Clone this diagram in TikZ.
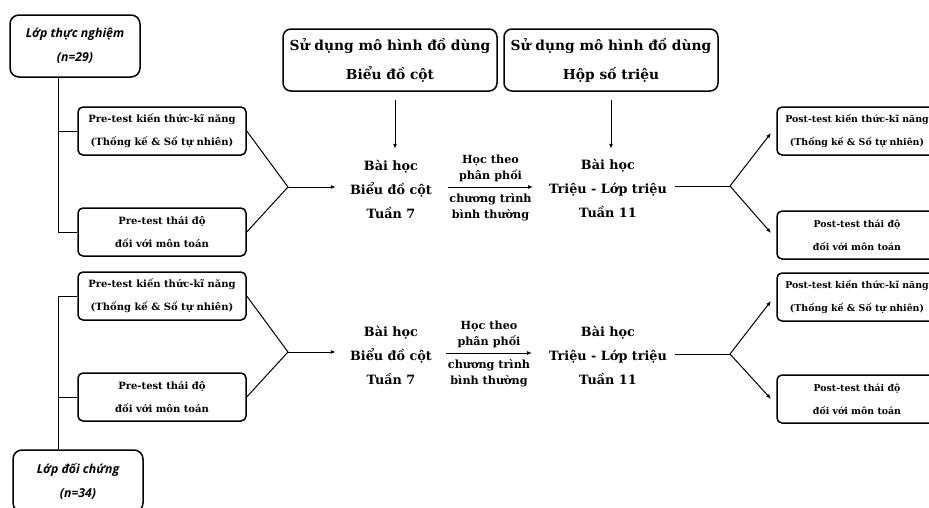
\documentclass[tikz,border=0pt]{standalone}
\usepackage{fontspec}
\setmainfont{DejaVu Serif}
\newfontfamily\lblfont{Open Sans}
\usetikzlibrary{arrows.meta}
\begin{document}
\begin{tikzpicture}[x=1pt,y=-1pt,
  box/.style={draw, line width=1.5pt, rounded corners=5pt, align=center, inner sep=0pt},
  classbox/.style={box, rounded corners=9pt, minimum width=130pt, minimum height=62pt,
     font=\lblfont\bfseries\itshape\fontsize{12.3}{24}\selectfont},
  testbox/.style={box, minimum width=168pt, minimum height=48pt,
     font=\bfseries\fontsize{10}{23}\selectfont},
  postbox/.style={testbox, minimum width=160pt, font=\bfseries\fontsize{9.4}{23}\selectfont},
  modelbox/.style={box, rounded corners=8pt, minimum width=214pt, minimum height=62pt,
     font=\bfseries\fontsize{13.8}{29}\selectfont},
  lesson/.style={align=center, inner sep=0pt, minimum width=110pt,
     font=\bfseries\fontsize{12.8}{24}\selectfont},
  midlbl/.style={align=center, inner sep=0pt, font=\bfseries\fontsize{11.2}{16}\selectfont},
  conn/.style={line width=1pt},
  arr/.style={conn, -{Latex[length=5pt,width=4pt]}}
]
\useasboundingbox (0,0) rectangle (929,507);
\clip (0,0) rectangle (929,507);

% class boxes
\node[classbox] (clsA) at (75,46) {Lớp thực nghiệm\\(n=29)};
\node[classbox] (clsB) at (78,481) {Lớp đối chứng\\(n=34)};

% model boxes
\node[modelbox] (mod1) at (390,60) {Sử dụng mô hình đồ dùng\\Biểu đồ cột};
\node[modelbox] (mod2) at (611,60) {Sử dụng mô hình đồ dùng\\Hộp số triệu};

% pre-test boxes
\node[testbox] (preKA) at (162,131) {Pre-test kiến thức-kĩ năng\\(Thống kế \& Số tự nhiên)};
\node[testbox] (preTA) at (162,232) {Pre-test thái độ\\đối với môn toán};
\node[testbox] (preKB) at (162,296) {Pre-test kiến thức-kĩ năng\\(Thống kế \& Số tự nhiên)};
\node[testbox] (preTB) at (162,397) {Pre-test thái độ\\đối với môn toán};

% post-test boxes
\node[postbox] (postKA) at (857,131) {Post-test kiến thức-kĩ năng\\(Thống kế \& Số tự nhiên)};
\node[postbox] (postTA) at (857,235) {Post-test thái độ\\đối với môn toán};
\node[postbox] (postKB) at (857,297) {Post-test kiến thức-kĩ năng\\(Thống kế \& Số tự nhiên)};
\node[postbox] (postTB) at (857,399) {Post-test thái độ\\đối với môn toán};

% lesson texts
\node[lesson] (lesA1) at (391,189) {Bài học\\Biểu đồ cột\\Tuần 7};
\node[lesson] (lesA2) at (608,188) {Bài học\\Triệu - Lớp triệu\\Tuần 11};
\node[lesson] (lesB1) at (391,355) {Bài học\\Biểu đồ cột\\Tuần 7};
\node[lesson] (lesB2) at (608,355) {Bài học\\Triệu - Lớp triệu\\Tuần 11};

% branch coordinates
\coordinate (jA) at (288,187);
\coordinate (jB) at (288,352);
\coordinate (kA) at (730,186);
\coordinate (kB) at (730,354);
\coordinate (spineA) at (58,131);
\coordinate (spineA2) at (58,232);
\coordinate (spineB) at (58,296);
\coordinate (spineB2) at (58,397);

% left spines
\draw[conn] (clsA.south -| spineA) -- (spineA2);
\draw[conn] (spineA) -- (preKA.west);
\draw[conn] (spineA2) -- (preTA.west);
\draw[conn] (clsB.north -| spineB) -- (spineB);
\draw[conn] (spineB) -- (preKB.west);
\draw[conn] (spineB2) -- (preTB.west);

% convergence
\draw[conn] (preKA.east) -- (jA);
\draw[conn] (preTA.east) -- (jA);
\draw[arr] (jA) -- (lesA1.west |- jA);
\draw[conn] (preKB.east) -- (jB);
\draw[conn] (preTB.east) -- (jB);
\draw[arr] (jB) -- (lesB1.west |- jB);

% model arrows
\draw[arr, shorten <=8pt] (mod1.south -| 395,0) -- ++(0,57) coordinate (m1end);
\draw[arr, shorten <=8pt] (mod2.south) -- ++(0,57) coordinate (m2end);

% middle arrows
\draw[arr] (448,187) coordinate (a1s) -- (533,187) coordinate (a1e)
  node[midlbl, midway, above=5pt] (upA) {Học theo\\phân phối}
  node[midlbl, midway, below=6pt] (dnA) {chương trình\\bình thường};
\draw[arr] (446,353) coordinate (b1s) -- (532,353) coordinate (b1e)
  node[midlbl, midway, above=5pt] (upB) {Học theo\\phân phối}
  node[midlbl, midway, below=6pt] (dnB) {chương trình\\bình thường};

% right branching
\draw[conn] (675,186) coordinate (oA) -- (kA);
\draw[arr] (kA) -- (771,133) coordinate (tA1);
\draw[arr] (kA) -- (771,233) coordinate (tA2);
\draw[conn] (675,354) coordinate (oB) -- (kB);
\draw[arr] (kB) -- (771,301) coordinate (tB1);
\draw[arr] (kB) -- (771,399) coordinate (tB2);
\end{tikzpicture}
\end{document}
